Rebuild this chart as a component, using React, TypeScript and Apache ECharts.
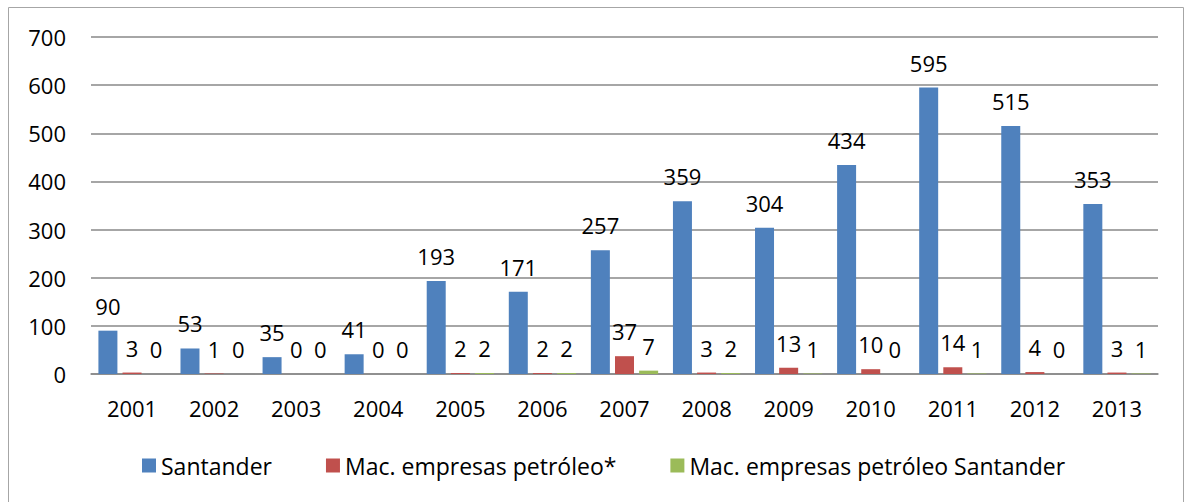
import React, { useEffect, useRef } from "react";
import * as echarts from "echarts";

const years = ["2001", "2002", "2003", "2004", "2005", "2006", "2007", "2008", "2009", "2010", "2011", "2012", "2013"];
const santander = [90, 53, 35, 41, 193, 171, 257, 359, 304, 434, 595, 515, 353];
const macPetroleo = [3, 1, 0, 0, 2, 2, 37, 3, 13, 10, 14, 4, 3];
const macPetroleoSantander = [0, 0, 0, 0, 2, 2, 7, 2, 1, 0, 1, 0, 1];
const seriesNames = ["Santander", "Mac. empresas petróleo*", "Mac. empresas petróleo Santander"];

const FONT = "'Open Sans', 'Noto Sans', sans-serif";

export default function App() {
  const ref = useRef<HTMLDivElement>(null);
  useEffect(() => {
    if (!ref.current) return;
    const chart = echarts.init(ref.current, null, { renderer: "svg" });
    const label = {
      show: true,
      position: "top",
      distance: 14,
      color: "#000",
      fontSize: 22,
      fontFamily: FONT,
    };
    const mk = (name: string, data: number[], color: string) => ({
      name,
      type: "bar",
      data,
      barWidth: 19,
      barGap: "27%",
      itemStyle: { color },
      label,
    });
    chart.setOption({
      animation: false,
      backgroundColor: "#fff",
      graphic: [
        {
          type: "rect",
          shape: { x: 8.5, y: 7.5, width: 1175, height: 520 },
          style: { fill: "none", stroke: "#a6a6a6", lineWidth: 1 },
          silent: true,
        },
      ],
      grid: { left: 91, right: 28, top: 37, bottom: 128, containLabel: false },
      legend: {
        data: seriesNames,
        top: 449,
        left: 137,
        itemWidth: 14,
        itemHeight: 14,
        itemGap: 54,
        icon: "rect",
        textStyle: { fontSize: 23, fontFamily: FONT, color: "#000" },
      },
      xAxis: {
        type: "category",
        data: years,
        axisLine: { show: true, lineStyle: { color: "#888", width: 1.5 } },
        axisTick: { show: false },
        axisLabel: { color: "#000", fontSize: 22, fontFamily: FONT, margin: 23 },
      },
      yAxis: {
        type: "value",
        min: 0,
        max: 700,
        interval: 100,
        axisLine: { show: false },
        axisTick: { show: false },
        splitLine: { lineStyle: { color: "#888", width: 1.5 } },
        axisLabel: { color: "#000", fontSize: 22, fontFamily: FONT, margin: 25 },
      },
      series: [
        mk(seriesNames[0], santander, "#4F81BD"),
        mk(seriesNames[1], macPetroleo, "#C0504D"),
        mk(seriesNames[2], macPetroleoSantander, "#9BBB59"),
      ],
    });
    return () => chart.dispose();
  }, []);
  return (
    <div
      ref={ref}
      style={{ position: "absolute", left: 0, top: 0, width: 1186, height: 502 }}
    />
  );
}
